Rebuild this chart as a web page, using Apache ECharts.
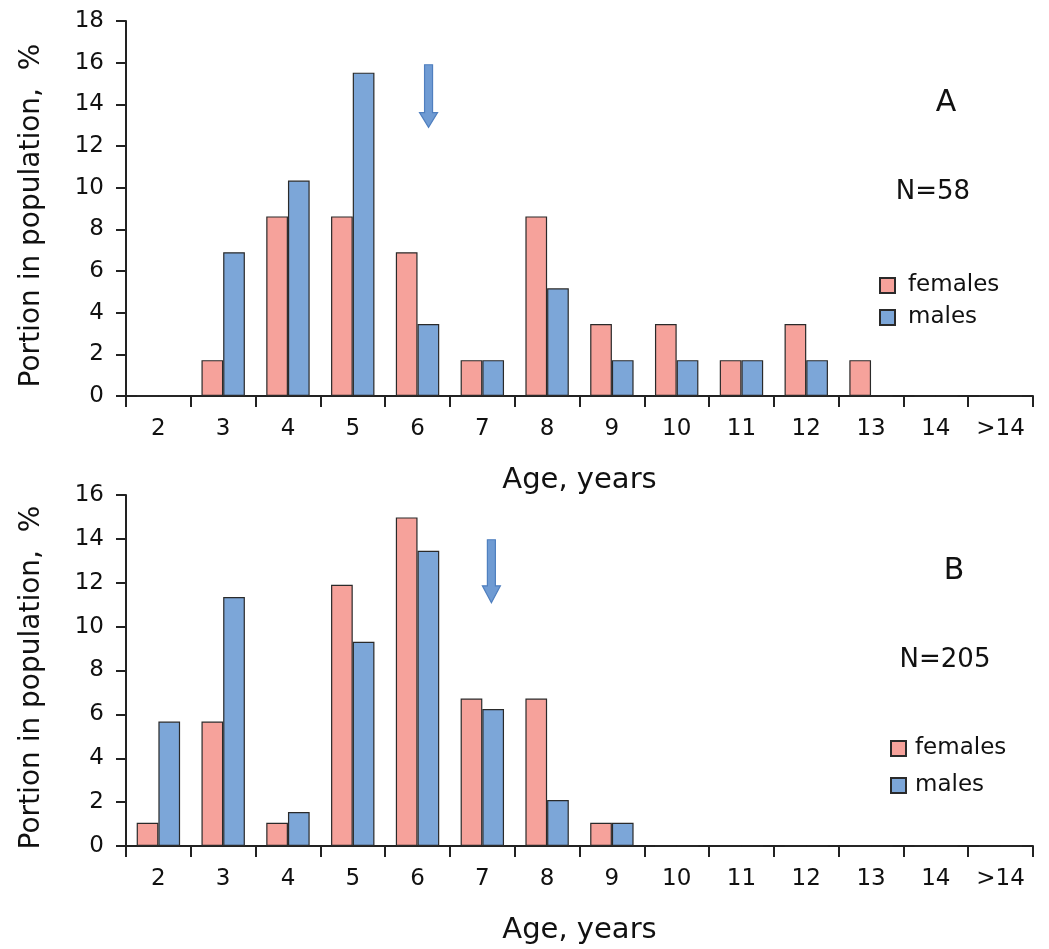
<!DOCTYPE html>
<html>
<head>
<meta charset="utf-8">
<script src="https://cdn.jsdelivr.net/npm/echarts@6/dist/echarts.min.js"></script>
<style>
html,body{margin:0;padding:0;background:#fff;}
#chart{width:1049px;height:949px;}
</style>
</head>
<body>
<div id="chart"></div>
<script>
// ---- data ----
const categories = ['2','3','4','5','6','7','8','9','10','11','12','13','14','>14'];
const femalesA = [0, 1.72, 8.62, 8.62, 6.90, 1.72, 8.62, 3.45, 3.45, 1.72, 3.45, 1.72, 0, 0];
const malesA   = [0, 6.90, 10.34, 15.52, 3.45, 1.72, 5.17, 1.72, 1.72, 1.72, 1.72, 0, 0, 0];
const femalesB = [1.06, 5.67, 1.06, 11.91, 14.98, 6.72, 6.72, 1.06, 0, 0, 0, 0, 0, 0];
const malesB   = [5.67, 11.35, 1.55, 9.31, 13.46, 6.24, 2.10, 1.06, 0, 0, 0, 0, 0, 0];
const yTicksA = {min: 0, max: 18, interval: 2};
const yTicksB = {min: 0, max: 16, interval: 2};
// mean-age arrows: age position, top value, tip value, value where head starts
const arrowA = {age: 6.17, top: 15.9, tip: 12.9, headStart: 13.6};
const arrowB = {age: 7.14, top: 13.96, tip: 11.09, headStart: 11.86};
const panelLabels = ['A', 'B'];
const sampleSizes = ['N=58', 'N=205'];
const seriesNames = ['females', 'males'];

const FONT = 'DejaVu Sans';
const INK = '#111';
const AXIS = '#222';
const PINK = '#F6A29B';
const BLUE = '#7CA6D8';

function xAxisCfg(gi) {
  return {
    type: 'category', gridIndex: gi, data: categories,
    name: 'Age, years', nameLocation: 'middle', nameGap: 70,
    nameTextStyle: {fontFamily: FONT, fontSize: 29, color: INK},
    axisLine: {lineStyle: {color: AXIS, width: 2}},
    axisTick: {show: true, length: 11, lineStyle: {color: AXIS, width: 2}},
    axisLabel: {fontFamily: FONT, fontSize: 23, color: INK, margin: 22, interval: 0},
    splitLine: {show: false}
  };
}
function yAxisCfg(gi, t) {
  return {
    type: 'value', gridIndex: gi, min: t.min, max: t.max, interval: t.interval,
    name: 'Portion in population,  %', nameLocation: 'middle', nameGap: 80, nameRotate: 90,
    nameTextStyle: {fontFamily: FONT, fontSize: 28, color: INK, padding: [0, 14, 0, 0]},
    axisLine: {show: true, lineStyle: {color: AXIS, width: 2}},
    axisTick: {show: true, length: 10, lineStyle: {color: AXIS, width: 2}},
    axisLabel: {fontFamily: FONT, fontSize: 23, color: INK, margin: 22},
    splitLine: {show: false}
  };
}
function barSeries(name, data, gi, color) {
  return {
    name: name, type: 'bar', xAxisIndex: gi, yAxisIndex: gi, data: data,
    barCategoryGap: '33%', barGap: '0%',
    itemStyle: {color: color, borderColor: '#2a2a2a', borderWidth: 1.2},
    emphasis: {disabled: true}, animation: false
  };
}
function legendCfg(left, top, gap, textPad) {
  return {
    data: seriesNames, orient: 'vertical', left: left, top: top, padding: 0,
    itemWidth: 15, itemHeight: 15, itemGap: gap, icon: 'rect',
    selectedMode: false,
    textStyle: {fontFamily: FONT, fontSize: 23, color: INK, padding: [0, 0, 0, textPad]}
  };
}

const chart = echarts.init(document.getElementById('chart'), null, {renderer: 'canvas'});
chart.setOption({
  animation: false,
  backgroundColor: '#fff',
  grid: [
    {left: 126, right: 16, top: 21, height: 375},
    {left: 126, right: 16, top: 495, height: 351}
  ],
  xAxis: [xAxisCfg(0), xAxisCfg(1)],
  yAxis: [yAxisCfg(0, yTicksA), yAxisCfg(1, yTicksB)],
  legend: [legendCfg(879, 274, 9, 8), legendCfg(890, 737, 14, 4)],
  series: [
    barSeries(seriesNames[0], femalesA, 0, PINK),
    barSeries(seriesNames[1], malesA, 0, BLUE),
    barSeries(seriesNames[0], femalesB, 1, PINK),
    barSeries(seriesNames[1], malesB, 1, BLUE)
  ]
});

function arrowGraphic(gi, a) {
  const c0 = chart.convertToPixel({xAxisIndex: gi}, 0);
  const c1 = chart.convertToPixel({xAxisIndex: gi}, 1);
  const band = c1 - c0;
  const x = c0 + (a.age - 2) * band;
  const yTop = chart.convertToPixel({yAxisIndex: gi}, a.top);
  const yTip = chart.convertToPixel({yAxisIndex: gi}, a.tip);
  const yHead = chart.convertToPixel({yAxisIndex: gi}, a.headStart);
  const sw = 4, hw = 9;
  return {
    type: 'polygon',
    shape: {points: [[x - sw, yTop], [x + sw, yTop], [x + sw, yHead], [x + hw, yHead], [x, yTip], [x - hw, yHead], [x - sw, yHead]]},
    style: {fill: '#6F9BD3', stroke: '#4F7FBF', lineWidth: 1.2},
    silent: true
  };
}
function txt(s, cx, cy, size) {
  return {type: 'text', x: cx, y: cy, style: {text: s, fontFamily: FONT, fontSize: size, fill: INK, align: 'center', verticalAlign: 'middle'}, silent: true};
}
chart.setOption({
  graphic: [
    arrowGraphic(0, arrowA),
    arrowGraphic(1, arrowB),
    txt(panelLabels[0], 946, 103, 30),
    txt(sampleSizes[0], 933, 192, 26),
    txt(panelLabels[1], 954, 571, 30),
    txt(sampleSizes[1], 945, 660, 26)
  ]
});
</script>
</body>
</html>
